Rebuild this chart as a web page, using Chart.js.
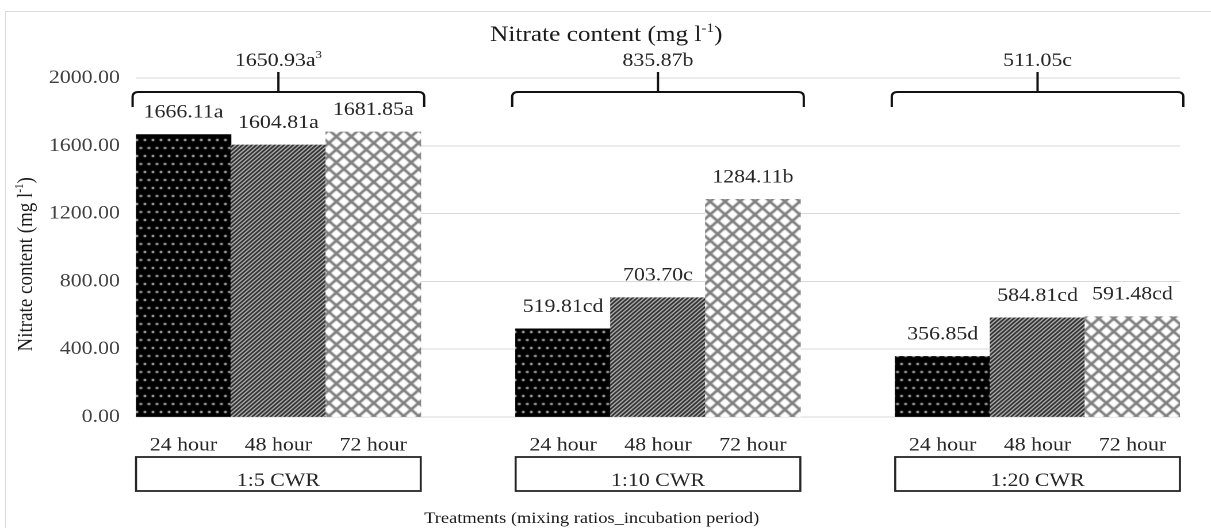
<!DOCTYPE html>
<html>
<head>
<meta charset="utf-8">
<script src="https://cdn.jsdelivr.net/npm/chart.js@4.4.1/dist/chart.umd.min.js"></script>
<style>
  html, body { margin: 0; padding: 0; background: #fff; overflow: hidden; }
  #frame { position: absolute; left: 5px; top: 11px; width: 1240px; height: 560px; border: 1px solid #d9d9d9; }
  #wrap { position: absolute; left: 0; top: 0; width: 1053px; height: 528px; transform: scaleX(1.15); transform-origin: 0 0; }
</style>
</head>
<body>
<div id="frame"></div>
<div id="wrap"><canvas id="nitrateChart" width="1053" height="528"></canvas></div>
<script>
// treatments
const ratios = ["1:5 CWR", "1:10 CWR", "1:20 CWR"];
const periods = ["24 hour", "48 hour", "72 hour"];

// nitrate content (mg l-1) per ratio, in period order
const ratio5 = [1666.11, 1604.81, 1681.85];
const ratio10 = [519.81, 703.70, 1284.11];
const ratio20 = [356.85, 584.81, 591.48];

// significance letters
const letters5 = ["a", "a", "a"];
const letters10 = ["cd", "c", "b"];
const letters20 = ["d", "cd", "cd"];

// ratio means shown over the braces
const ratioMeans = [1650.93, 835.87, 511.05];
const ratioLetters = ["a", "b", "c"];
const ratioSup = ["3", "", ""];

const yMax = 2000;
const yStep = 400;

// one slot per bar, an empty slot between ratios
const labels = [];
const values = [];
const letters = [];
[ratio5, ratio10, ratio20].forEach((arr, k) => {
    const lt = [letters5, letters10, letters20][k];
    arr.forEach((v, i) => {
        labels.push(periods[i]);
        values.push(v);
        letters.push(lt[i]);
    });
    if (k < 2) { labels.push(""); values.push(null); letters.push(""); }
});

function makePattern(kind) {
    const c = document.createElement("canvas");
    const p = c.getContext("2d");
    if (kind === "dots") {
        c.width = 14; c.height = 16;
        p.fillStyle = "#000";
        p.fillRect(0, 0, 14, 16);
        p.fillStyle = "#b0b0b0";
        [[3.5, 4], [10.5, 4], [0, 12], [7, 12], [14, 12]].forEach(d => {
            p.beginPath(); p.arc(d[0], d[1], 1.3, 0, Math.PI * 2); p.fill();
        });
    } else if (kind === "stripes") {
        c.width = 4; c.height = 4;
        p.fillStyle = "#fff";
        p.fillRect(0, 0, 4, 4);
        p.strokeStyle = "#111";
        p.lineWidth = 1.8;
        p.beginPath();
        p.moveTo(-1, 5); p.lineTo(5, -1);
        p.moveTo(-1, 1); p.lineTo(1, -1);
        p.moveTo(3, 5); p.lineTo(5, 3);
        p.stroke();
    } else {
        c.width = 13; c.height = 13;
        p.fillStyle = "#fff";
        p.fillRect(0, 0, 13, 13);
        p.strokeStyle = "#808080";
        p.lineWidth = 2.6;
        p.beginPath();
        p.moveTo(-2, -2); p.lineTo(15, 15);
        p.moveTo(-2, 15); p.lineTo(15, -2);
        p.stroke();
    }
    return p.createPattern(c, "repeat");
}

const fills = [makePattern("dots"), makePattern("stripes"), makePattern("cross")];
const barFills = labels.map((l, i) => l ? fills[periods.indexOf(l)] : "transparent");

function drawSup(ctx, main, sup, x, y, size, family) {
    ctx.font = size + "px " + family;
    const w1 = ctx.measureText(main).width;
    ctx.font = Math.round(size * 0.6) + "px " + family;
    const w2 = sup ? ctx.measureText(sup).width : 0;
    const start = x - (w1 + w2) / 2;
    ctx.textAlign = "left";
    ctx.font = size + "px " + family;
    ctx.fillText(main, start, y);
    if (sup) {
        ctx.font = Math.round(size * 0.6) + "px " + family;
        ctx.fillText(sup, start + w1, y - size * 0.3);
    }
    return start + w1 + w2;
}

const annotate = {
    id: "annotate",
    afterDraw(chart) {
        const { ctx, chartArea, scales: { x } } = chart;
        const serif = '"Liberation Serif", "Times New Roman", serif';
        const slot = (chartArea.right - chartArea.left) / labels.length;
        ctx.save();
        ctx.textBaseline = "middle";

        // value labels
        chart.getDatasetMeta(0).data.forEach((bar, i) => {
            if (values[i] == null) return;
            ctx.fillStyle = "#262626";
            ctx.font = "19px " + serif;
            ctx.textAlign = "center";
            ctx.fillText(values[i].toFixed(2) + letters[i], bar.x, bar.y - 22);
        });

        ratios.forEach((r, k) => {
            const left = x.getPixelForValue(k * 4) - slot / 2;
            const right = x.getPixelForValue(k * 4 + 2) + slot / 2;
            const cx = (left + right) / 2;

            // ratio box under the period labels
            ctx.strokeStyle = "#262626";
            ctx.lineWidth = 1.8;
            ctx.strokeRect(left, chartArea.bottom + 40, right - left, 34);
            ctx.fillStyle = "#262626";
            ctx.font = "19px " + serif;
            ctx.textAlign = "center";
            ctx.fillText(r, cx, chartArea.bottom + 64);

            // brace with ratio mean
            const hw = (right - left) / 2 + 3;
            const yb = chartArea.top + 14;
            ctx.strokeStyle = "#111";
            ctx.lineWidth = 2;
            ctx.beginPath();
            ctx.moveTo(cx - hw, yb + 15);
            ctx.lineTo(cx - hw, yb + 5);
            ctx.quadraticCurveTo(cx - hw, yb, cx - hw + 5, yb);
            ctx.lineTo(cx + hw - 5, yb);
            ctx.quadraticCurveTo(cx + hw, yb, cx + hw, yb + 5);
            ctx.lineTo(cx + hw, yb + 15);
            ctx.moveTo(cx, yb);
            ctx.lineTo(cx, yb - 20);
            ctx.stroke();
            ctx.fillStyle = "#262626";
            drawSup(ctx, ratioMeans[k].toFixed(2) + ratioLetters[k], ratioSup[k], cx, chartArea.top - 17, 19, serif);
        });

        // titles
        ctx.fillStyle = "#1a1a1a";
        const tEnd = drawSup(ctx, "Nitrate content (mg l", "-1", chart.width / 2 - 3, 35, 22, serif);
        ctx.font = "22px " + serif;
        ctx.fillText(")", tEnd, 35);

        ctx.font = "16px " + serif;
        ctx.textAlign = "center";
        ctx.fillText("Treatments (mixing ratios_incubation period)", chart.width / 2 - 12, chart.height - 9);

        ctx.save();
        ctx.translate(23, (chartArea.top + chartArea.bottom) / 2 + 16);
        ctx.rotate(-Math.PI / 2);
        const yEnd = drawSup(ctx, "Nitrate content (mg l", "-1", -4, 0, 19, serif);
        ctx.font = "19px " + serif;
        ctx.fillText(")", yEnd, 0);
        ctx.restore();

        ctx.restore();
    }
};

new Chart(document.getElementById("nitrateChart"), {
    type: "bar",
    data: {
        labels: labels,
        datasets: [{
            label: "Nitrate",
            data: values,
            backgroundColor: barFills,
            borderWidth: 0,
            barPercentage: 1,
            categoryPercentage: 1
        }]
    },
    options: {
        responsive: false,
        animation: false,
        devicePixelRatio: 2,
        layout: { padding: { left: 0, right: 27, top: 78, bottom: 0 } },
        plugins: {
            legend: { display: false },
            tooltip: { enabled: false }
        },
        scales: {
            x: {
                grid: { display: false, drawTicks: false },
                border: { display: true, color: "#d9d9d9" },
                ticks: {
                    autoSkip: false,
                    maxRotation: 0,
                    padding: 17,
                    color: "#262626",
                    font: { family: '"Liberation Serif", serif', size: 19 }
                },
                afterFit(scale) { scale.height = 111; }
            },
            y: {
                min: 0,
                max: yMax,
                grid: { color: "#d9d9d9", drawTicks: false },
                border: { display: false },
                ticks: {
                    stepSize: yStep,
                    padding: 14,
                    color: "#404040",
                    font: { family: '"Liberation Serif", serif', size: 19 },
                    callback: v => v.toFixed(2)
                },
                afterFit(scale) { scale.width = 118.3; }
            }
        }
    },
    plugins: [annotate]
});
</script>
</body>
</html>
